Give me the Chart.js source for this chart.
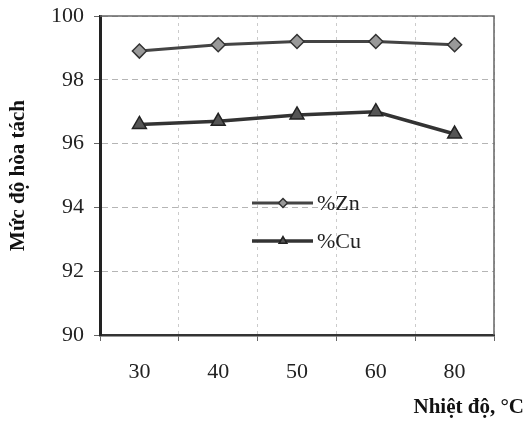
<!DOCTYPE html>
<html>
<head>
<meta charset="utf-8">
<script src="https://cdn.jsdelivr.net/npm/chart.js@4/dist/chart.umd.min.js"></script>
<style>
  html, body { margin: 0; padding: 0; background: #fff; }
  #wrap { width: 530px; height: 422px; }
</style>
</head>
<body>
<div id="wrap"><canvas id="c"></canvas></div>
<script>
const temps = ['30', '40', '50', '60', '80'];
const zinc = [98.9, 99.1, 99.2, 99.2, 99.1];
const copper = [96.6, 96.7, 96.9, 97.0, 96.3];
const yTicks = [90, 92, 94, 96, 98, 100];
const xTitle = 'Nhiệt độ, °C';

const serif = '"Liberation Serif", "DejaVu Serif", serif';

// legend drawn inside the plot, like the original figure
const innerLegend = {
  id: 'innerLegend',
  afterDatasetsDraw(chart) {
    const ctx = chart.ctx;
    const area = chart.chartArea;
    const x0 = area.left + 152;
    const rows = [area.top + 187, area.top + 225];
    chart.data.datasets.forEach((ds, i) => {
      const y = rows[i];
      ctx.save();
      ctx.strokeStyle = ds.borderColor;
      ctx.lineWidth = ds.borderWidth;
      ctx.beginPath();
      ctx.moveTo(x0, y);
      ctx.lineTo(x0 + 61, y);
      ctx.stroke();
      ctx.fillStyle = ds.pointBackgroundColor;
      ctx.strokeStyle = ds.pointBorderColor;
      ctx.lineWidth = ds.pointBorderWidth;
      Chart.helpers.drawPoint(ctx, {
        pointStyle: ds.pointStyle,
        radius: 4.5,
        borderWidth: ds.pointBorderWidth,
        rotation: 0
      }, x0 + 31, y);
      ctx.fillStyle = '#222';
      ctx.font = '22px ' + serif;
      ctx.textBaseline = 'middle';
      ctx.fillText(ds.label, x0 + 65, y + 1);
      ctx.restore();
    });
  }
};

// thin frame on the top and right of the plot area, axis title in the corner
const plotFrame = {
  id: 'plotFrame',
  beforeDatasetsDraw(chart) {
    const ctx = chart.ctx;
    const a = chart.chartArea;
    ctx.save();
    ctx.strokeStyle = '#666';
    ctx.lineWidth = 1.5;
    ctx.beginPath();
    ctx.moveTo(a.left, a.top);
    ctx.lineTo(a.right, a.top);
    ctx.lineTo(a.right, a.bottom);
    ctx.stroke();
    ctx.fillStyle = '#111';
    ctx.font = 'bold 21px ' + serif;
    ctx.textAlign = 'right';
    ctx.textBaseline = 'middle';
    ctx.fillText(xTitle, chart.width - 6, 408);
    ctx.restore();
  }
};

new Chart(document.getElementById('c'), {
  type: 'line',
  data: {
    labels: temps,
    datasets: [
      {
        label: '%Zn',
        data: zinc,
        borderColor: '#444',
        borderWidth: 3,
        pointStyle: 'rectRot',
        pointRadius: 7,
        pointBackgroundColor: '#999',
        pointBorderColor: '#333',
        pointBorderWidth: 1.5,
        tension: 0
      },
      {
        label: '%Cu',
        data: copper,
        borderColor: '#333',
        borderWidth: 3.5,
        pointStyle: 'triangle',
        pointRadius: 8,
        pointBackgroundColor: '#555',
        pointBorderColor: '#222',
        pointBorderWidth: 1.5,
        tension: 0
      }
    ]
  },
  options: {
    responsive: true,
    maintainAspectRatio: false,
    animation: false,
    layout: { padding: { top: 16, right: 36, left: 0, bottom: 0 } },
    plugins: {
      legend: { display: false },
      tooltip: { enabled: false }
    },
    scales: {
      x: {
        offset: true,
        afterFit(scale) {
          scale.height = 87;
          scale.paddingLeft = 0;
          scale.paddingRight = 0;
        },
        grid: {
          offset: true,
          color: 'rgba(160,160,160,0.55)',
          lineWidth: 1,
          tickLength: 6,
          tickColor: '#666'
        },
        border: { color: '#333', width: 2.5, dash: [3, 4] },
        ticks: {
          color: '#222',
          padding: 18,
          font: { family: serif, size: 22 }
        }
      },
      y: {
        min: 90,
        max: 100,
        afterFit(scale) {
          scale.width = 100;
          scale.paddingTop = 0;
          scale.paddingBottom = 0;
        },
        afterBuildTicks(scale) { scale.ticks = yTicks.map(v => ({ value: v })); },
        grid: {
          color: 'rgba(150,150,150,0.7)',
          lineWidth: 1,
          tickLength: 6,
          tickColor: '#666'
        },
        border: { color: '#222', width: 3, dash: [6, 4] },
        ticks: {
          color: '#222',
          padding: 10,
          font: { family: serif, size: 22 }
        },
        title: {
          display: true,
          text: 'Mức độ hòa tách',
          color: '#111',
          font: { family: serif, size: 21, weight: 'bold' },
          padding: { top: 6, bottom: 0 }
        }
      }
    }
  },
  plugins: [plotFrame, innerLegend]
});
</script>
</body>
</html>
